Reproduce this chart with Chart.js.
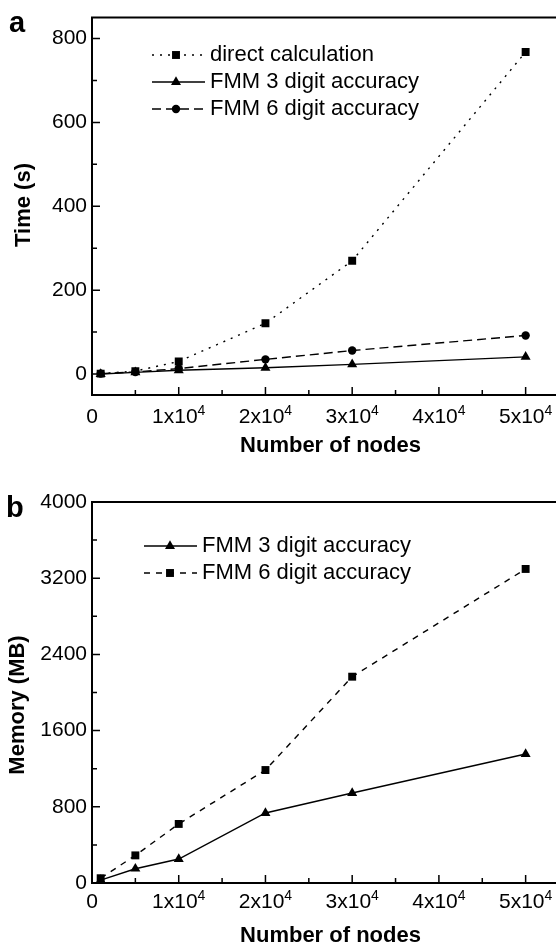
<!DOCTYPE html>
<html>
<head>
<meta charset="utf-8">
<script src="https://cdn.jsdelivr.net/npm/chart.js@4.4.0/dist/chart.umd.min.js"></script>
<style>
  html, body { margin: 0; padding: 0; background: #fff; overflow: hidden; width: 556px; height: 943px; }
  canvas { position: absolute; left: 0; }
  #chartA { top: 0; }
  #chartB { top: 470px; }
</style>
</head>
<body>
<canvas id="chartA" width="580" height="470"></canvas>
<canvas id="chartB" width="580" height="480"></canvas>
<script>
// number of nodes (x)
const nodes = [1000, 5000, 10000, 20000, 30000, 50000];

// panel a: time (s)
const timeDirect = [1, 7, 30, 121, 270, 768];
const timeFmm3 = [0, 4, 9, 15, 23, 41];
const timeFmm6 = [1, 5, 13, 35, 56, 92];

// panel b: memory (MB)
const memFmm3 = [30, 150, 252, 735, 945, 1354];
const memFmm6 = [50, 290, 620, 1186, 2166, 3297];

// ticks
const xTicks = [0, 10000, 20000, 30000, 40000, 50000];
const xMinor = [5000, 15000, 25000, 35000, 45000];
const xTickBase = ['0', '1x10', '2x10', '3x10', '4x10', '5x10'];
const xTickExp = ['', '4', '4', '4', '4', '4'];
const timeTicks = [0, 200, 400, 600, 800];
const timeMinor = [100, 300, 500, 700];
const memTicks = [0, 800, 1600, 2400, 3200, 4000];
const memMinor = [400, 1200, 2000, 2800, 3600];

const FONT = '"Liberation Sans", Arial, sans-serif';

function pts(ys) {
    return nodes.map((x, i) => ({ x: x, y: ys[i] }));
}

// frame, inward ticks, x labels with superscript, y title, panel letter, legend
const decorPlugin = {
    id: 'decor',
    afterDraw(chart, args, o) {
        const ctx = chart.ctx;
        const a = chart.chartArea;
        const xs = chart.scales.x;
        const ys = chart.scales.y;
        ctx.save();
        ctx.strokeStyle = '#000';
        ctx.fillStyle = '#000';
        ctx.lineWidth = 2;
        ctx.setLineDash([]);

        // box (right side falls off the page)
        ctx.beginPath();
        ctx.moveTo(a.right + 2, a.top);
        ctx.lineTo(a.left, a.top);
        ctx.lineTo(a.left, a.bottom);
        ctx.lineTo(a.right + 2, a.bottom);
        ctx.stroke();

        // inward ticks
        ctx.lineWidth = 1.5;
        ctx.beginPath();
        xTicks.forEach(v => { const p = xs.getPixelForValue(v); ctx.moveTo(p, a.bottom); ctx.lineTo(p, a.bottom - 8); });
        xMinor.forEach(v => { const p = xs.getPixelForValue(v); ctx.moveTo(p, a.bottom); ctx.lineTo(p, a.bottom - 5); });
        o.yMajor.forEach(v => { const p = ys.getPixelForValue(v); ctx.moveTo(a.left, p); ctx.lineTo(a.left + 8, p); });
        o.yMinor.forEach(v => { const p = ys.getPixelForValue(v); ctx.moveTo(a.left, p); ctx.lineTo(a.left + 5, p); });
        ctx.stroke();

        // x tick labels  (1x10^4 style)
        ctx.textBaseline = 'alphabetic';
        ctx.textAlign = 'left';
        xTicks.forEach((v, i) => {
            const p = xs.getPixelForValue(v);
            ctx.font = '21px ' + FONT;
            const w1 = ctx.measureText(xTickBase[i]).width;
            ctx.font = '14px ' + FONT;
            const w2 = xTickExp[i] ? ctx.measureText(xTickExp[i]).width : 0;
            const x0 = p - (w1 + w2) / 2;
            ctx.font = '21px ' + FONT;
            ctx.fillText(xTickBase[i], x0, a.bottom + o.xLabelDy);
            if (xTickExp[i]) {
                ctx.font = '14px ' + FONT;
                ctx.fillText(xTickExp[i], x0 + w1, a.bottom + o.xLabelDy - 8);
            }
        });

        // y title
        ctx.save();
        ctx.translate(o.yTitleX, o.yTitleY);
        ctx.rotate(-Math.PI / 2);
        ctx.font = 'bold 22px ' + FONT;
        ctx.textAlign = 'center';
        ctx.textBaseline = 'middle';
        ctx.fillText(o.yTitle, 0, 0);
        ctx.restore();

        // panel letter
        ctx.font = 'bold 29px ' + FONT;
        ctx.textAlign = 'left';
        ctx.textBaseline = 'alphabetic';
        ctx.fillText(o.panel, o.panelX, o.panelY);

        // legend
        chart.data.datasets.forEach((ds, i) => {
            const y = o.legendRows[i];
            ctx.lineWidth = ds.borderWidth;
            ctx.setLineDash(ds.borderDash || []);
            ctx.beginPath();
            ctx.moveTo(o.legendX0, y);
            ctx.lineTo(o.legendX1, y);
            ctx.stroke();
            ctx.setLineDash([]);
            Chart.helpers.drawPoint(ctx, { pointStyle: ds.pointStyle, radius: ds.pointRadius, rotation: 0, borderWidth: 0 }, o.legendXm, y);
            ctx.font = '22px ' + FONT;
            ctx.textAlign = 'left';
            ctx.textBaseline = 'middle';
            ctx.fillText(ds.label, o.legendXt, y);
        });
        ctx.restore();
    }
};

function series(label, ys, dash, style, radius) {
    return {
        label: label,
        data: pts(ys),
        borderColor: '#000',
        backgroundColor: '#000',
        borderWidth: 1.4,
        borderDash: dash,
        pointStyle: style,
        pointRadius: radius,
        pointBorderWidth: 0,
        pointBackgroundColor: '#000',
        tension: 0,
        fill: false
    };
}

function makeOptions(c) {
    return {
        responsive: false,
        animation: false,
        events: [],
        layout: { padding: { top: c.top, right: 11, left: 0, bottom: 0 } },
        plugins: {
            legend: { display: false },
            tooltip: { enabled: false },
            decor: c.decor
        },
        scales: {
            x: {
                type: 'linear',
                min: 0,
                max: 55000,
                grid: { display: false, drawTicks: false },
                border: { display: false },
                ticks: { display: false },
                afterBuildTicks: s => { s.ticks = xTicks.map(v => ({ value: v })); },
                afterFit: s => { s.height = c.xHeight; },
                title: {
                    display: true,
                    text: 'Number of nodes',
                    color: '#000',
                    font: { family: FONT, size: 22, weight: 'bold' },
                    padding: { top: 0, bottom: c.titlePad }
                }
            },
            y: {
                type: 'linear',
                min: c.yMin,
                max: c.yMax,
                grid: { display: false, drawTicks: false },
                border: { display: false },
                afterBuildTicks: s => { s.ticks = c.yTicks.map(v => ({ value: v })); },
                afterFit: s => { s.width = 92; },
                ticks: {
                    color: '#000',
                    padding: 5,
                    font: { family: FONT, size: 21 },
                    callback: v => String(v)
                }
            }
        }
    };
}

new Chart(document.getElementById('chartA'), {
    type: 'line',
    plugins: [decorPlugin],
    data: {
        datasets: [
            series('direct calculation', timeDirect, [2, 6], 'rect', 5.6),
            series('FMM 3 digit accuracy', timeFmm3, [], 'triangle', 5.8),
            series('FMM 6 digit accuracy', timeFmm6, [9, 5], 'circle', 4.2)
        ]
    },
    options: makeOptions({
        top: 14, xHeight: 75, titlePad: 11,
        yMin: -50, yMax: 850, yTicks: timeTicks,
        decor: {
            yMajor: timeTicks, yMinor: timeMinor, xLabelDy: 28,
            yTitle: 'Time (s)', yTitleX: 24, yTitleY: 205,
            panel: 'a', panelX: 9, panelY: 32,
            legendRows: [55, 82, 109], legendX0: 152, legendXm: 176, legendX1: 205, legendXt: 210
        }
    })
});

new Chart(document.getElementById('chartB'), {
    type: 'line',
    plugins: [decorPlugin],
    data: {
        datasets: [
            series('FMM 3 digit accuracy', memFmm3, [], 'triangle', 5.8),
            series('FMM 6 digit accuracy', memFmm6, [6, 6], 'rect', 5.6)
        ]
    },
    options: makeOptions({
        top: 32, xHeight: 67, titlePad: 1,
        yMin: 0, yMax: 4000, yTicks: memTicks,
        decor: {
            yMajor: memTicks, yMinor: memMinor, xLabelDy: 25,
            yTitle: 'Memory (MB)', yTitleX: 18, yTitleY: 235,
            panel: 'b', panelX: 6, panelY: 47,
            legendRows: [76, 103], legendX0: 144, legendXm: 170, legendX1: 197, legendXt: 202
        }
    })
});
</script>
</body>
</html>
